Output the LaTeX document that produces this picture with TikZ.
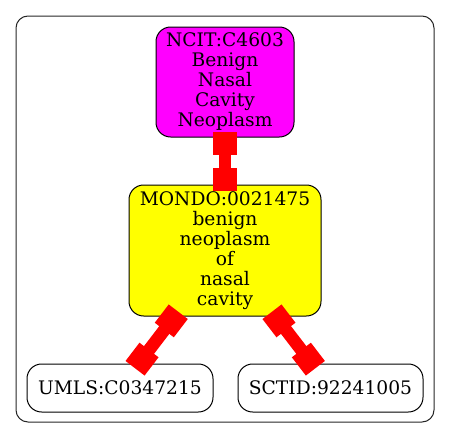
\documentclass[tikz,border=0pt]{standalone}
\usepackage{fontspec}
\setmainfont{DejaVu Serif}
\usetikzlibrary{arrows.meta}
\definecolor{termmagenta}{RGB}{255,0,255}
\definecolor{termyellow}{RGB}{255,255,0}
\definecolor{linkred}{RGB}{255,0,0}

\begin{document}
\begin{tikzpicture}[x=0.75pt, y=-0.75pt,
    term/.style={draw=black, line width=0.75pt, rounded corners=11pt, inner sep=0pt,
                 align=center, font=\fontsize{14}{15}\selectfont},
    link/.style={draw=linkred, line width=9.5pt,
                 {Square[length=17.25pt, width=18pt]}-{Square[length=17.25pt, width=18pt]},
                 shorten <=-4.5pt, shorten >=-4.5pt}]
  \useasboundingbox (0,0) rectangle (451,439);

  % cluster
  \draw [line width=0.75pt, draw=black!85, rounded corners=9pt] (16,16) rectangle (434,422);

  \node [term, fill=termmagenta, minimum width=103.5pt, minimum height=82.5pt] (ncit) at (225,82)
        {NCIT:C4603\\Benign\\Nasal\\Cavity\\Neoplasm};
  \node [term, fill=termyellow, minimum width=144pt, minimum height=98.25pt] (mondo) at (225,250.5)
        {MONDO:0021475\\benign\\neoplasm\\of\\nasal\\cavity};
  \node [term, minimum width=139.5pt, minimum height=36pt] (umls) at (120,388)
        {UMLS:C0347215};
  \node [term, minimum width=138.75pt, minimum height=36pt] (sctid) at (330.5,388)
        {SCTID:92241005};

  \draw [link] (ncit) -- (mondo);
  \draw [link] (mondo) -- (umls);
  \draw [link] (mondo) -- (sctid);
\end{tikzpicture}
\end{document}
